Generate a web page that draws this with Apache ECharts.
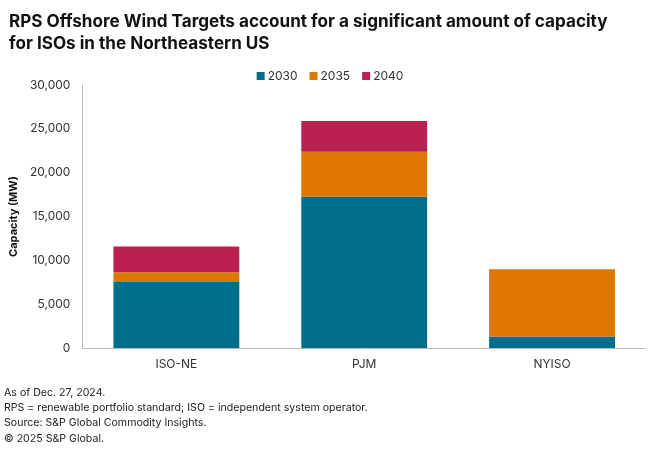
<!DOCTYPE html>
<html>
<head>
<meta charset="utf-8">
<script src="https://cdn.jsdelivr.net/npm/echarts@6/dist/echarts.min.js"></script>
<style>html,body{margin:0;padding:0;background:#fff;}#c{width:660px;height:454px;}</style>
</head>
<body>
<div id="c"></div>
<script>
var categories = ['ISO-NE', 'PJM', 'NYISO'];
var seriesNames = ['2030', '2035', '2040'];
var values2030 = [7530, 17250, 1320];
var values2035 = [1100, 5140, 7650];
var values2040 = [2960, 3500, 0];
var yTicks = { min: 0, max: 30000, interval: 5000 };
var titleLines = ['RPS Offshore Wind Targets account for a significant amount of capacity', 'for ISOs in the Northeastern US'];
var footnotes = ['As of Dec. 27, 2024.', 'RPS = renewable portfolio standard; ISO = independent system operator.', 'Source: S&P Global Commodity Insights.', '\u00a9 2025 S&P Global.'];
var colors = ['#006E8A', '#DD7700', '#BB2050'];

var font = 'Inter, "Liberation Sans", Arial, sans-serif';
var chart = echarts.init(document.getElementById('c'));
var dataSets = [values2030, values2035, values2040];
var series = seriesNames.map(function (n, i) {
  return {
    name: n, type: 'bar', stack: 'total', barWidth: '67%',
    itemStyle: { color: colors[i] },
    emphasis: { disabled: true },
    data: dataSets[i]
  };
});
var graphics = footnotes.map(function (t, i) {
  return { type: 'text', left: 4, top: 387 + i * 15.3, style: { text: t, font: '10.6px ' + font, fill: '#222' } };
});
chart.setOption({
  animation: false,
  color: colors,
  title: {
    text: titleLines.join('\n'), left: 4, top: 6,
    textStyle: { fontFamily: font, fontSize: 17.1, fontWeight: 'bold', color: '#111', lineHeight: 22 }
  },
  legend: {
    data: seriesNames, top: 65, left: 'center', itemWidth: 8, itemHeight: 8, itemGap: 12,
    icon: 'rect', textStyle: { fontFamily: font, fontSize: 12, color: '#333', padding: [0, 0, 0, -2] }
  },
  grid: { left: 79, right: 14, top: 85, bottom: 106, containLabel: false },
  xAxis: {
    type: 'category', data: categories,
    axisLine: { lineStyle: { color: '#bbb', width: 1 } },
    axisTick: { show: false },
    axisLabel: { fontFamily: font, fontSize: 12, color: '#333', margin: 10 }
  },
  yAxis: {
    type: 'value', min: yTicks.min, max: yTicks.max, interval: yTicks.interval,
    name: 'Capacity (MW)', nameLocation: 'middle', nameGap: 62, nameRotate: 90,
    nameTextStyle: { fontFamily: font, fontSize: 11, fontWeight: 'bold', color: '#111' },
    axisLine: { show: true, lineStyle: { color: '#bbb', width: 1 } },
    axisTick: { show: false },
    splitLine: { show: false },
    axisLabel: {
      fontFamily: font, fontSize: 12, color: '#333', margin: 12,
      formatter: function (v) { return v.toLocaleString('en-US'); }
    }
  },
  graphic: graphics,
  series: series
});
</script>
</body>
</html>
